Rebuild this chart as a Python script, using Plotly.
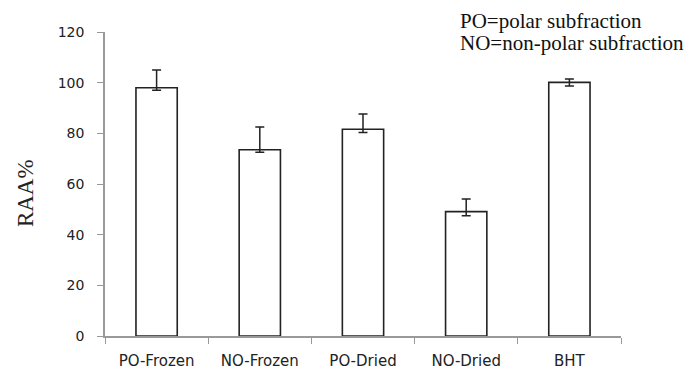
import plotly.graph_objects as go

categories = ["PO-Frozen", "NO-Frozen", "PO-Dried", "NO-Dried", "BHT"]
raa = [98.0, 73.5, 81.6, 49.1, 100.1]
err_plus = [7.0, 9.0, 6.0, 5.0, 1.3]
err_minus = [1.0, 1.0, 1.3, 1.6, 1.4]
y_ticks = [0, 20, 40, 60, 80, 100, 120]

fig = go.Figure()
fig.add_trace(go.Bar(
    x=categories, y=raa, width=0.4,
    marker=dict(color="white", line=dict(color="#222222", width=1.6)),
    error_y=dict(type="data", symmetric=False, array=err_plus, arrayminus=err_minus,
                 color="#222222", thickness=1.5, width=4.5),
    showlegend=False,
))

fig.update_layout(
    width=680, height=362,
    margin=dict(l=97, r=67, t=24, b=34, autoexpand=False),
    paper_bgcolor="white", plot_bgcolor="white",
    font=dict(family="DejaVu Sans", size=14, color="#222222"),
    xaxis=dict(showline=True, linecolor="#999999", linewidth=1.5, automargin=False,
               ticks="outside", tickson="boundaries", ticklen=6, tickcolor="#999999",
               tickfont=dict(family="DejaVu Sans", size=15, color="#222222"),
               ticklabelstandoff=10, showgrid=False),
    yaxis=dict(range=[0, 120], tickvals=y_ticks, showline=True, linecolor="#999999",
               linewidth=1.5, ticks="outside", ticklen=6, tickcolor="#999999",
               showgrid=False, zeroline=False, ticklabelstandoff=10, automargin=False,
               tickfont=dict(family="DejaVu Sans", size=14, color="#222222")),
    annotations=[
        dict(text="RAA%", xref="paper", yref="paper", x=0, y=0.47, xshift=-80,
             xanchor="center", yanchor="middle", textangle=-90, showarrow=False,
             font=dict(family="Liberation Serif", size=23, color="#222222")),
        dict(text="PO=polar subfraction", xref="paper", yref="paper", x=(458-105)/516, y=1.0,
             xanchor="left", yanchor="middle", yshift=11, showarrow=False,
             font=dict(family="Liberation Serif", size=21, color="#111111")),
        dict(text="NO=non-polar subfraction", xref="paper", yref="paper", x=(458-105)/516, y=1.0,
             xanchor="left", yanchor="middle", yshift=-11, showarrow=False,
             font=dict(family="Liberation Serif", size=21, color="#111111")),
    ],
)

fig.write_html("out.html")
